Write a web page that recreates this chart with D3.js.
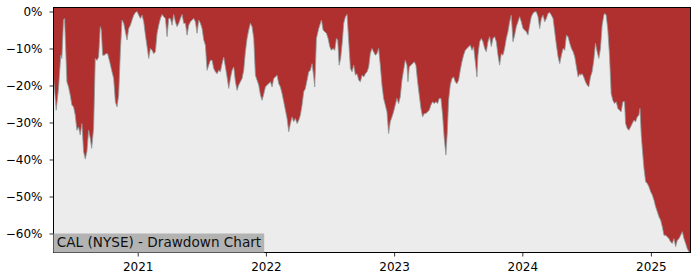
<!DOCTYPE html>
<html>
<head>
<meta charset="utf-8">
<script src="https://cdn.jsdelivr.net/npm/d3@7"></script>
<style>
body { margin: 0; background: #ffffff; }
text { font-family: "DejaVu Sans", sans-serif; }
</style>
</head>
<body>
<div id="drawdownPlot"></div>
<script>
// CAL (NYSE) drawdown, dates as decimal years, values in percent below the running peak
let ddYears = [
    2020.345, 2020.366, 2020.384, 2020.402, 2020.410, 2020.423, 2020.431, 2020.439, 2020.449, 2020.462,
    2020.475, 2020.488, 2020.501, 2020.514, 2020.527, 2020.540, 2020.553, 2020.566, 2020.579, 2020.592,
    2020.605, 2020.618, 2020.631, 2020.642, 2020.657, 2020.670, 2020.683, 2020.696, 2020.709, 2020.717,
    2020.727, 2020.740, 2020.753, 2020.766, 2020.782, 2020.800, 2020.813, 2020.826, 2020.839, 2020.852,
    2020.865, 2020.878, 2020.891, 2020.904, 2020.917, 2020.930, 2020.943, 2020.956, 2020.969, 2020.982,
    2020.995, 2021.008, 2021.021, 2021.034, 2021.047, 2021.060, 2021.073, 2021.086, 2021.099, 2021.112,
    2021.125, 2021.138, 2021.151, 2021.164, 2021.177, 2021.190, 2021.203, 2021.216, 2021.229, 2021.242,
    2021.255, 2021.268, 2021.281, 2021.294, 2021.307, 2021.320, 2021.333, 2021.346, 2021.359, 2021.372,
    2021.385, 2021.398, 2021.411, 2021.424, 2021.437, 2021.450, 2021.463, 2021.476, 2021.489, 2021.502,
    2021.515, 2021.528, 2021.541, 2021.554, 2021.567, 2021.580, 2021.593, 2021.606, 2021.619, 2021.632,
    2021.645, 2021.658, 2021.671, 2021.684, 2021.697, 2021.710, 2021.723, 2021.736, 2021.749, 2021.762,
    2021.775, 2021.788, 2021.801, 2021.814, 2021.827, 2021.840, 2021.853, 2021.866, 2021.879, 2021.892,
    2021.905, 2021.918, 2021.931, 2021.944, 2021.957, 2021.970, 2021.983, 2021.996, 2022.009, 2022.022,
    2022.035, 2022.048, 2022.061, 2022.074, 2022.087, 2022.100, 2022.113, 2022.126, 2022.139, 2022.152,
    2022.165, 2022.178, 2022.191, 2022.204, 2022.217, 2022.230, 2022.243, 2022.256, 2022.269, 2022.282,
    2022.295, 2022.308, 2022.321, 2022.334, 2022.347, 2022.360, 2022.373, 2022.381, 2022.394, 2022.412,
    2022.425, 2022.433, 2022.446, 2022.459, 2022.472, 2022.485, 2022.498, 2022.511, 2022.524, 2022.537,
    2022.550, 2022.560, 2022.571, 2022.583, 2022.596, 2022.607, 2022.620, 2022.633, 2022.646, 2022.659,
    2022.672, 2022.685, 2022.698, 2022.711, 2022.724, 2022.737, 2022.750, 2022.763, 2022.776, 2022.789,
    2022.802, 2022.814, 2022.827, 2022.840, 2022.853, 2022.866, 2022.879, 2022.892, 2022.905, 2022.918,
    2022.931, 2022.944, 2022.957, 2022.970, 2022.983, 2022.996, 2023.009, 2023.022, 2023.035, 2023.048,
    2023.061, 2023.074, 2023.087, 2023.100, 2023.108, 2023.118, 2023.131, 2023.144, 2023.157, 2023.170,
    2023.183, 2023.196, 2023.209, 2023.222, 2023.235, 2023.248, 2023.261, 2023.274, 2023.287, 2023.300,
    2023.313, 2023.326, 2023.339, 2023.352, 2023.365, 2023.378, 2023.391, 2023.404, 2023.415, 2023.425,
    2023.438, 2023.451, 2023.464, 2023.477, 2023.490, 2023.503, 2023.516, 2023.529, 2023.542, 2023.555,
    2023.568, 2023.581, 2023.594, 2023.607, 2023.620, 2023.633, 2023.646, 2023.654, 2023.667, 2023.680,
    2023.693, 2023.706, 2023.719, 2023.732, 2023.745, 2023.758, 2023.771, 2023.784, 2023.797, 2023.810,
    2023.823, 2023.836, 2023.849, 2023.862, 2023.875, 2023.888, 2023.901, 2023.914, 2023.927, 2023.940,
    2023.953, 2023.966, 2023.979, 2023.992, 2024.005, 2024.018, 2024.031, 2024.044, 2024.057, 2024.070,
    2024.083, 2024.096, 2024.109, 2024.122, 2024.135, 2024.148, 2024.161, 2024.174, 2024.187, 2024.200,
    2024.213, 2024.226, 2024.239, 2024.252, 2024.265, 2024.278, 2024.291, 2024.304, 2024.317, 2024.330,
    2024.343, 2024.356, 2024.369, 2024.382, 2024.395, 2024.408, 2024.421, 2024.434, 2024.447, 2024.452,
    2024.465, 2024.478, 2024.491, 2024.504, 2024.517, 2024.530, 2024.543, 2024.556, 2024.569, 2024.582,
    2024.595, 2024.608, 2024.621, 2024.634, 2024.641, 2024.652, 2024.665, 2024.678, 2024.691, 2024.704,
    2024.717, 2024.730, 2024.743, 2024.756, 2024.769, 2024.782, 2024.795, 2024.803, 2024.816, 2024.829,
    2024.842, 2024.855, 2024.868, 2024.881, 2024.894, 2024.907, 2024.915, 2024.925, 2024.933, 2024.946,
    2024.959, 2024.972, 2024.985, 2024.998, 2025.011, 2025.024, 2025.037, 2025.050, 2025.063, 2025.076,
    2025.089, 2025.102, 2025.115, 2025.128, 2025.141, 2025.154, 2025.167, 2025.180, 2025.193, 2025.206,
    2025.219, 2025.232, 2025.245, 2025.258, 2025.271, 2025.284, 2025.297, 2025.309
];
let ddPct = [
    -17.7, -26.7, -20.8, -11.8, -12.7, -2.3, -1.9, -9.1, -19.0, -20.4,
    -22.6, -25.3, -25.8, -28.0, -32.1, -31.2, -33.4, -30.3, -37.9, -39.9,
    -37.9, -32.1, -34.3, -37.0, -31.6, -12.7, -13.2, -12.3, -4.1, -5.0,
    -11.8, -11.8, -11.4, -11.4, -13.6, -16.3, -18.1, -24.4, -25.8, -22.6,
    -10.9, -2.3, -3.2, -5.5, -7.7, -4.6, -3.7, -2.3, -1.0, -0.3,
    0.0, -1.0, -1.9, -1.0, -2.8, -6.4, -9.5, -12.7, -10.0, -10.5,
    -11.4, -10.9, -5.9, -3.7, -1.9, -0.8, -1.4, -1.9, -6.8, -1.9,
    -1.9, -3.7, -0.8, -2.8, -4.1, -3.2, -1.9, -0.8, -3.2, -3.2,
    -6.4, -3.7, -2.8, -2.3, -1.9, -2.8, -5.9, -2.3, -3.2, -4.6,
    -7.7, -9.1, -15.9, -14.5, -13.2, -13.2, -15.4, -16.3, -16.8, -15.9,
    -16.3, -14.1, -12.3, -15.0, -17.7, -20.8, -18.1, -15.9, -15.0, -19.0,
    -21.3, -19.9, -19.0, -18.1, -15.9, -10.9, -7.3, -5.0, -3.2, -4.1,
    -7.3, -17.2, -18.6, -19.9, -22.6, -24.0, -22.4, -20.4, -19.9, -19.5,
    -19.0, -20.4, -18.1, -17.7, -17.2, -19.5, -20.4, -22.2, -24.4, -26.7,
    -28.9, -32.5, -30.3, -28.5, -29.8, -28.9, -30.3, -29.4, -28.0, -25.3,
    -21.7, -20.8, -18.6, -16.3, -15.9, -14.1, -17.7, -20.4, -7.3, -4.6,
    -3.2, -2.3, -5.0, -5.5, -5.9, -7.3, -9.5, -10.5, -10.0, -10.5,
    -7.3, -7.7, -14.5, -12.7, -8.2, -3.2, -1.4, -0.8, -8.2, -15.4,
    -16.3, -14.5, -17.2, -16.8, -18.6, -19.0, -17.2, -17.7, -16.8, -16.3,
    -15.0, -11.4, -10.0, -10.9, -11.8, -11.4, -10.0, -14.5, -19.9, -23.5,
    -25.3, -27.1, -33.0, -29.8, -28.5, -27.1, -25.3, -23.5, -24.9, -23.1,
    -18.6, -15.9, -13.2, -14.5, -19.0, -15.0, -14.5, -14.1, -13.6, -14.5,
    -19.0, -22.6, -26.2, -28.5, -27.6, -27.6, -27.1, -26.7, -25.3, -24.4,
    -24.9, -24.4, -24.9, -23.5, -23.5, -28.0, -34.3, -38.8, -32.5, -24.0,
    -19.9, -18.1, -17.7, -19.0, -19.5, -18.6, -15.9, -13.6, -11.8, -10.5,
    -10.0, -9.5, -9.1, -10.5, -9.5, -13.6, -17.7, -11.8, -8.2, -7.3,
    -8.2, -10.0, -10.9, -8.2, -6.8, -9.5, -7.3, -6.8, -8.2, -11.8,
    -14.5, -11.4, -11.8, -10.0, -7.3, -5.5, -2.8, -1.0, -8.2, -6.4,
    -4.1, -2.8, -1.4, -2.8, -4.6, -5.0, -5.5, -6.4, -3.7, -1.4,
    -0.5, -0.1, -0.1, -1.4, -4.6, -1.9, -1.0, -2.8, -1.9, -0.5,
    -0.3, -1.0, -1.9, -5.5, -9.1, -12.3, -14.1, -11.8, -10.0, -10.5,
    -6.4, -6.8, -8.6, -10.0, -10.9, -12.3, -15.0, -17.7, -16.8, -17.2,
    -16.8, -17.7, -19.0, -19.9, -20.4, -17.7, -16.3, -13.2, -8.6, -10.9,
    -12.7, -10.0, -3.7, -1.0, -0.5, -1.0, -5.0, -11.8, -22.2, -24.0,
    -24.9, -24.4, -26.2, -26.7, -27.1, -24.4, -24.4, -30.3, -31.6, -32.1,
    -31.2, -30.3, -29.4, -29.8, -28.5, -28.0, -26.2, -33.4, -37.0, -42.4,
    -46.0, -46.5, -47.4, -48.7, -49.6, -51.0, -52.8, -54.1, -55.5, -56.4,
    -58.2, -60.5, -60.5, -60.9, -61.4, -62.3, -62.7, -61.4, -63.6, -61.8,
    -61.4, -60.5, -59.5, -61.4, -62.7, -64.1, -65.0, -65.1
];
let yTicks = [0, -10, -20, -30, -40, -50, -60];
let yLimits = [-65.14, 1.08];
let chartTitle = "CAL (NYSE) - Drawdown Chart";

function yearToDate(yr) {
    let y = Math.floor(yr);
    let start = new Date(y, 0, 1), end = new Date(y + 1, 0, 1);
    return new Date(+start + (yr - y) * (end - start));
}

function drawdownPlot(width, height) {
    let margin = {top: 7.5, right: 9.5, bottom: 27.5, left: 53.5};
    let innerW = width - margin.left - margin.right;
    let innerH = height - margin.top - margin.bottom;

    let data = ddYears.map(function (d, i) { return {date: yearToDate(d), dd: ddPct[i]}; });

    let svg = d3.select("#drawdownPlot").append("svg")
        .attr("width", width)
        .attr("height", height);
    let g = svg.append("g")
        .attr("transform", "translate(" + margin.left + "," + margin.top + ")");

    let x = d3.scaleTime()
        .domain([data[0].date, data[data.length - 1].date])
        .range([0, innerW]);
    let y = d3.scaleLinear()
        .domain(yLimits)
        .range([innerH, 0]);

    // axes background
    g.append("rect")
        .attr("width", innerW)
        .attr("height", innerH)
        .style("fill", "#ececec");

    // red area between the top of the axes and the drawdown curve
    g.append("path")
        .datum(data)
        .attr("d", d3.area()
            .x(function (d) { return x(d.date); })
            .y0(0)
            .y1(function (d) { return y(d.dd); }))
        .style("fill", "#b03030");

    g.append("path")
        .datum(data)
        .attr("d", d3.line()
            .x(function (d) { return x(d.date); })
            .y(function (d) { return y(d.dd); }))
        .style("fill", "none")
        .style("stroke", "#909c9c")
        .style("stroke-width", 0.8);

    let yAxis = g.append("g")
        .call(d3.axisLeft(y).tickValues(yTicks)
            .tickSize(4).tickPadding(7)
            .tickFormat(function (d) { return d3.format("d")(d) + "%"; }));
    let xAxis = g.append("g")
        .attr("transform", "translate(0," + innerH + ")")
        .call(d3.axisBottom(x).ticks(d3.timeYear.every(1))
            .tickSize(4).tickPadding(6)
            .tickFormat(d3.timeFormat("%Y")));
    [yAxis, xAxis].forEach(function (a) {
        a.select(".domain").remove();
        a.selectAll("text").style("font-size", "12px").style("fill", "#000");
        a.selectAll("line").style("stroke", "#000").style("stroke-width", 0.8);
    });

    // frame
    g.append("rect")
        .attr("width", innerW)
        .attr("height", innerH)
        .style("fill", "none")
        .style("stroke", "#000")
        .style("stroke-width", 1);

    // title box in the lower left corner
    let label = g.append("g");
    let box = label.append("rect").style("fill", "#b3b3b3");
    let txt = label.append("text")
        .attr("x", 3.3)
        .attr("y", innerH - 5.8)
        .style("font-size", "13.6px")
        .style("fill", "#111")
        .text(chartTitle);
    let bb = txt.node().getBBox();
    box.attr("x", 0)
        .attr("y", innerH - 19)
        .attr("width", bb.x + bb.width + 3)
        .attr("height", 19);
}

drawdownPlot(700, 280);
</script>
</body>
</html>
